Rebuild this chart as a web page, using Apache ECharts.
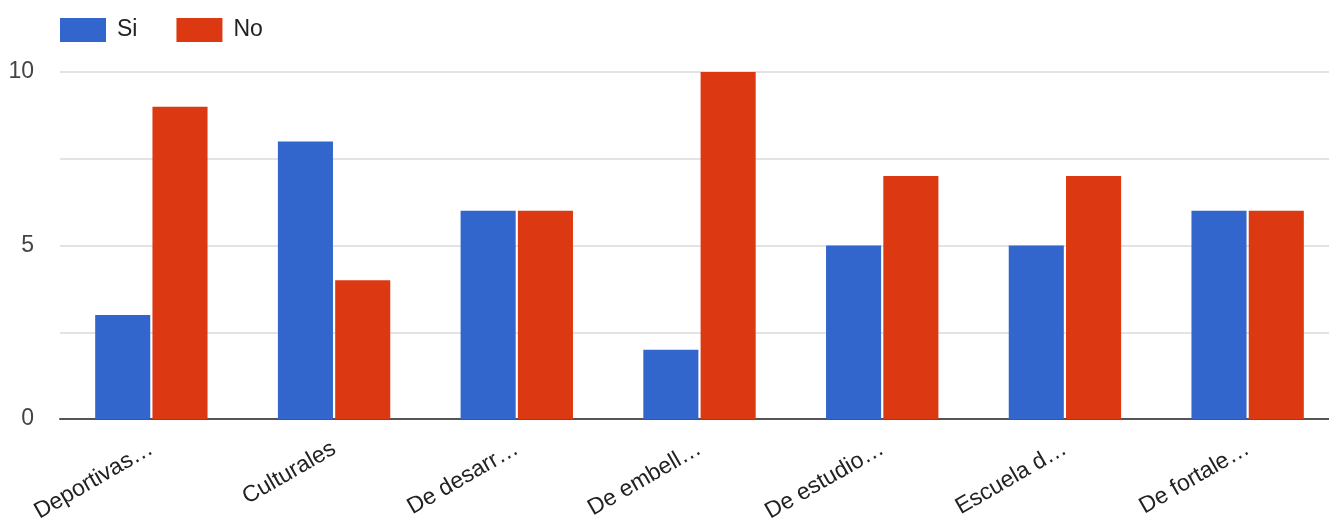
<!DOCTYPE html>
<html>
<head>
<meta charset="utf-8">
<script src="https://cdn.jsdelivr.net/npm/echarts@6/dist/echarts.min.js"></script>
<style>
  html, body { margin: 0; padding: 0; background: #ffffff; overflow: hidden; }
  /* the plot runs slightly past the right edge of the window */
  #chart { width: 1345px; height: 525px; }
</style>
</head>
<body>
<div id="chart"></div>
<script>
// Activity types (labels truncated as shown on the axis)
const categories = ['Deportivas…', 'Culturales', 'De desarr…', 'De embell…', 'De estudio…', 'Escuela d…', 'De fortale…'];
const seriesNames = ['Si', 'No'];
const siValues = [3, 8, 6, 2, 5, 5, 6];
const noValues = [9, 4, 6, 10, 7, 7, 6];
const yTickLabels = { 0: '0', 5: '5', 10: '10' };

const font = '"Liberation Sans", Arial, sans-serif';
const chart = echarts.init(document.getElementById('chart'), null, { renderer: 'canvas' });

chart.setOption({
  animation: false,
  color: ['#3366cc', '#dc3912'],
  legend: {
    data: seriesNames,
    left: 60,
    top: 18,
    padding: 0,
    itemWidth: 46,
    itemHeight: 24,
    itemGap: 39,
    icon: 'rect',
    textStyle: { fontFamily: font, fontSize: 23, color: '#222222', padding: [0, 0, 0, 6] }
  },
  grid: { left: 60, top: 72, width: 1279, height: 348.5, containLabel: false },
  xAxis: {
    type: 'category',
    data: categories,
    axisTick: { show: false },
    axisLine: { lineStyle: { color: '#555555', width: 2 } },
    axisLabel: {
      rotate: 30,
      margin: 28,
      interval: 0,
      fontFamily: font,
      fontSize: 23,
      color: '#222222'
    }
  },
  yAxis: {
    type: 'value',
    min: 0,
    max: 10,
    interval: 2.5,
    axisLine: { show: false },
    axisTick: { show: false },
    splitLine: { lineStyle: { color: '#e3e3e3', width: 2 } },
    axisLabel: {
      margin: 26,
      fontFamily: font,
      fontSize: 23,
      color: '#444444',
      formatter: v => (yTickLabels[v] !== undefined ? yTickLabels[v] : '')
    }
  },
  series: [
    {
      name: seriesNames[0],
      type: 'bar',
      data: siValues,
      barGap: '4%',
      barCategoryGap: '38.5%'
    },
    {
      name: seriesNames[1],
      type: 'bar',
      data: noValues,
      barGap: '4%',
      barCategoryGap: '38.5%'
    }
  ]
});
</script>
</body>
</html>
